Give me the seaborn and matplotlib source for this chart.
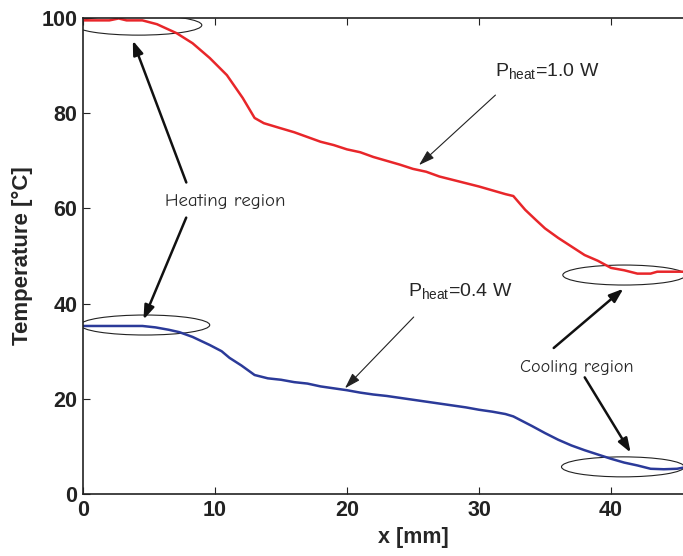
import matplotlib
matplotlib.use("Agg")
import matplotlib.pyplot as plt
from matplotlib.patches import Ellipse
import seaborn as sns
import pandas as pd

# Data
x_hi = [0, 1, 2, 2.7, 3.3, 4.5, 5.6, 7.1, 8.3, 9.6, 10.9, 12.1, 13.0, 13.7, 14.9, 16, 17, 18, 19, 20,
        21, 22, 23, 24, 25, 26, 27, 28, 29, 30, 31, 32, 32.6, 33.5, 34.3, 35, 36, 37, 38, 39,
        40, 41, 42, 43, 43.5, 44.5, 46]
t_hi = [99.5, 99.5, 99.5, 99.9, 99.5, 99.5, 98.7, 96.8, 94.7, 91.6, 88.0, 83.2, 79.0, 77.9, 76.9, 76.0,
        75.0, 74.0, 73.3, 72.4, 71.8, 70.8, 70.0, 69.2, 68.3, 67.7, 66.7, 66.0, 65.3, 64.6, 63.8, 63.0,
        62.6, 59.7, 57.6, 55.8, 53.8, 52.0, 50.2, 49.0, 47.5, 47.0, 46.3, 46.3, 46.7, 46.7, 46.7]

x_lo = [0, 4.5, 5.5, 6.5, 7.3, 8.3, 9.6, 10.5, 11.1, 12, 13, 14, 15, 16, 17, 18, 19, 20, 21, 22,
        23, 24, 25, 26, 27, 28, 29, 30, 31, 32, 32.6, 33.3, 34, 35, 36, 37, 38, 39, 40, 41,
        42, 43, 44, 45, 46]
t_lo = [35.3, 35.3, 35.0, 34.5, 34.0, 33.0, 31.3, 30.0, 28.6, 27.0, 25.0, 24.3, 24.0, 23.5, 23.2, 22.6,
        22.2, 21.8, 21.3, 20.9, 20.6, 20.2, 19.8, 19.4, 19.0, 18.6, 18.2, 17.7, 17.3, 16.8, 16.3, 15.3,
        14.3, 12.8, 11.4, 10.2, 9.2, 8.3, 7.4, 6.6, 6.0, 5.3, 5.2, 5.3, 5.8]

labels = ["1.0 W", "0.4 W"]

df = pd.concat([
    pd.DataFrame({"x": x_hi, "T": t_hi, "P": labels[0]}),
    pd.DataFrame({"x": x_lo, "T": t_lo, "P": labels[1]}),
])

sns.set_theme(style="ticks")
plt.rcParams["font.family"] = ["Liberation Sans Narrow", "Liberation Sans", "DejaVu Sans"]

fig = plt.figure(figsize=(6.83, 5.56), dpi=100)
ax = fig.add_axes([83 / 683, 62 / 556, 660 / 683, 476 / 556])

sns.lineplot(data=df, x="x", y="T", hue="P", palette=["#e8262a", "#2b3a99"],
             linewidth=1.8, legend=False, ax=ax, estimator=None, sort=False)

ax.set_xlim(0, 50)
ax.set_ylim(0, 100)
ax.set_xticks([0, 10, 20, 30, 40])
ax.set_yticks([0, 20, 40, 60, 80, 100])
ax.tick_params(direction="in", length=5, width=0.8, top=True, right=False,
               labelsize=15.5, colors="#222222", pad=4)
for lab in ax.get_xticklabels() + ax.get_yticklabels():
    lab.set_fontweight("bold")
ax.spines["right"].set_visible(False)
for s in ["left", "bottom", "top"]:
    ax.spines[s].set_linewidth(1.2)
    ax.spines[s].set_color("#222222")

ax.set_xlabel("x [mm]", fontsize=15.5, fontweight="bold", labelpad=5)
ax.set_ylabel("Temperature [°C]", fontsize=16, fontweight="bold", labelpad=6)

# ellipses marking regions
for cx, cy, w, h in [(4.2, 98.5, 9.6, 4.2), (4.7, 35.5, 9.8, 4.2),
                     (41.0, 46.0, 9.3, 4.2), (40.9, 5.7, 9.3, 4.2)]:
    ax.add_patch(Ellipse((cx, cy), w, h, fill=False, edgecolor="#222222", linewidth=0.8))

hand = ["Comic Neue", "Open Sans", "DejaVu Sans"]
ax.text(10.8, 61.5, "Heating region", ha="center", va="center", fontsize=13.5, family=hand)
ax.text(37.4, 26.5, "Cooling region", ha="center", va="center", fontsize=13, family=hand)

bold_arrow = dict(arrowstyle="-|>,head_length=0.7,head_width=0.25", color="#111111", lw=1.8)
for xy, xytext in [((3.7, 95.8), (7.9, 64.9)), ((4.5, 36.1), (7.9, 58.6)),
                   ((41.1, 43.5), (35.5, 30.3)), ((41.6, 8.2), (37.9, 25.0))]:
    ax.annotate("", xy=xy, xytext=xytext, arrowprops=bold_arrow)

thin_arrow = dict(arrowstyle="-|>,head_length=0.8,head_width=0.25", color="#222222", lw=0.8)
ax.annotate("", xy=(25.3, 68.7), xytext=(31.4, 84.2), arrowprops=thin_arrow)
ax.annotate("", xy=(19.7, 21.8), xytext=(25.2, 37.6), arrowprops=thin_arrow)

ax.text(35.2, 88.7, r"P$_{\mathregular{heat}}$=1.0 W", ha="center", va="center",
        fontsize=14, family=["Liberation Sans", "DejaVu Sans"])
ax.text(28.6, 42.4, r"P$_{\mathregular{heat}}$=0.4 W", ha="center", va="center",
        fontsize=14, family=["Liberation Sans", "DejaVu Sans"])

fig.savefig("out.png", dpi=100)
